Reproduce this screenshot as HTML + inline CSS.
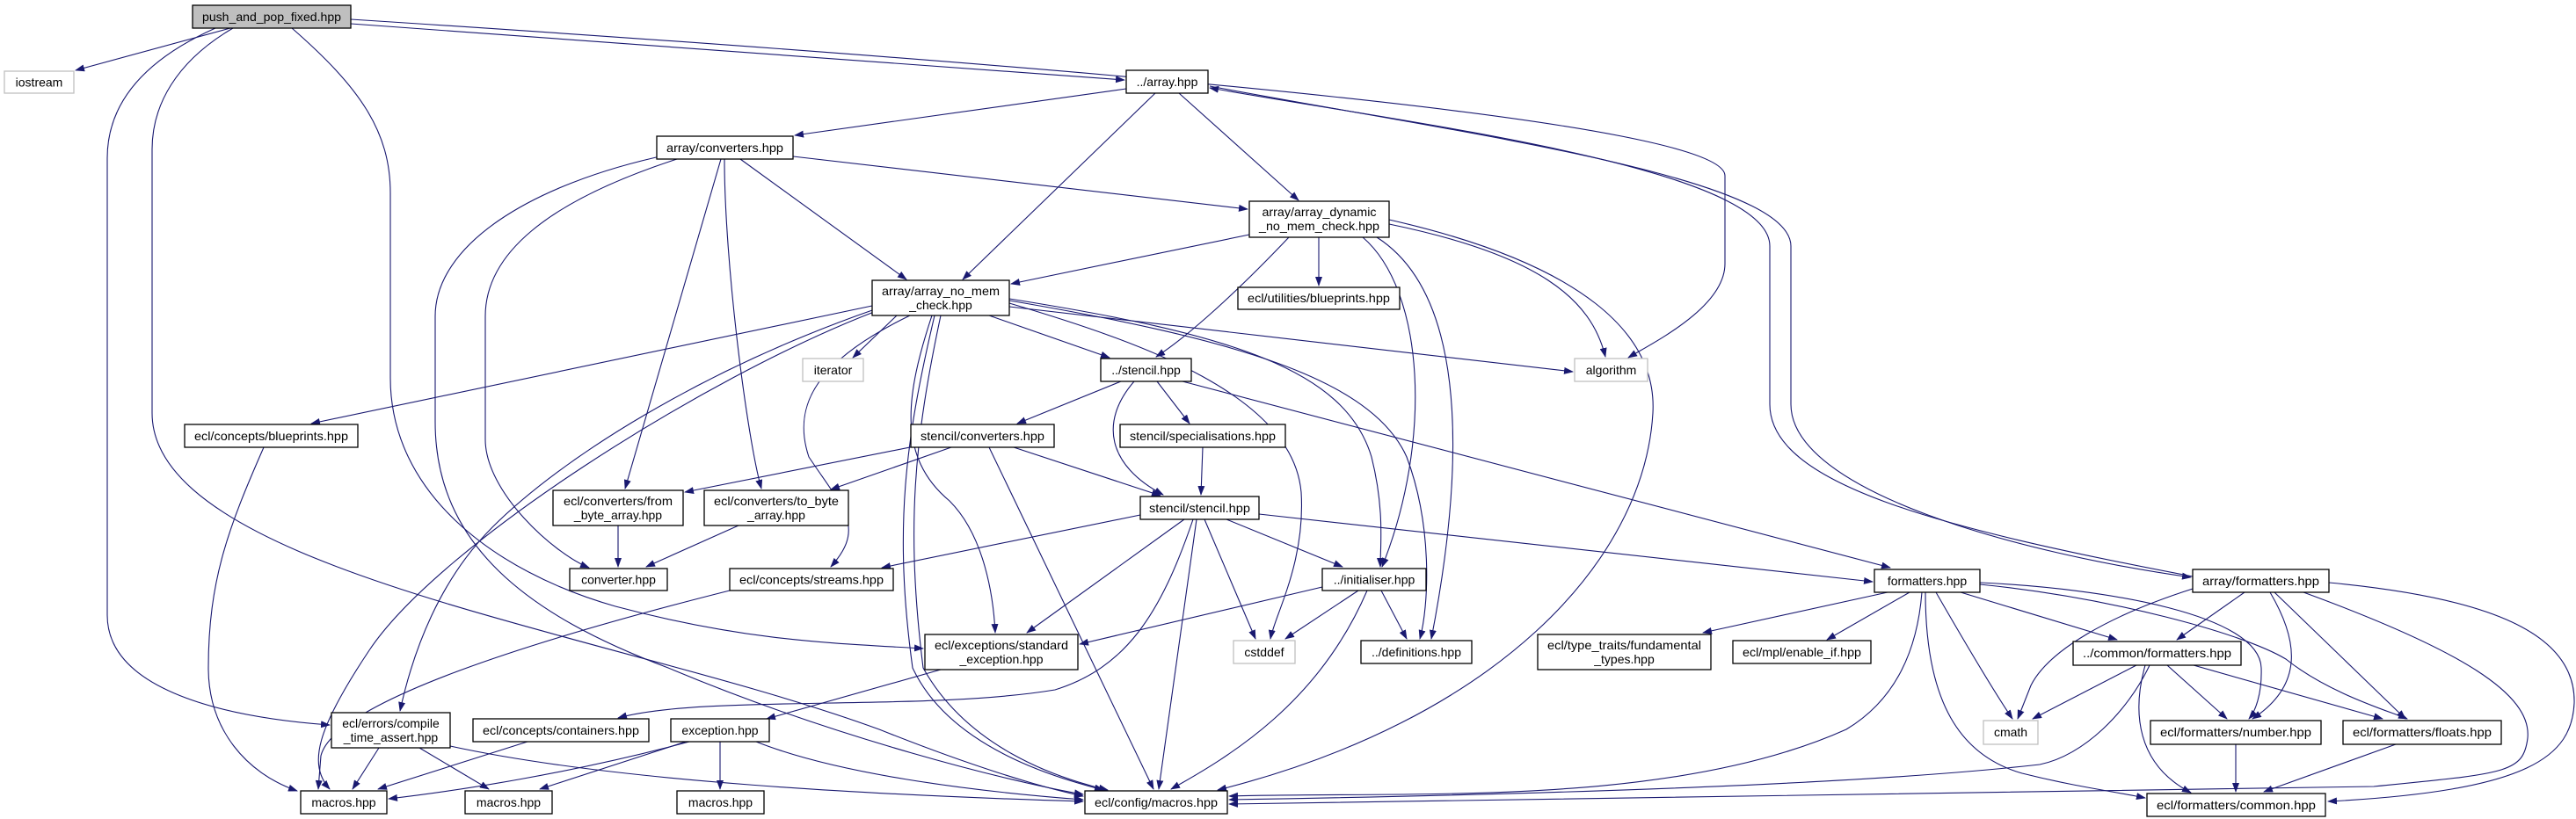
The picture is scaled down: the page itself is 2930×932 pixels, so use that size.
<!DOCTYPE html>
<html><head><meta charset="utf-8"><style>
html,body{margin:0;padding:0;background:#fff;}
svg{display:block;}
text{font-family:"Liberation Sans",sans-serif;font-size:14px;fill:#000;}
.n{fill:#fff;stroke:#000;stroke-width:1.3;}
.g{fill:#fff;stroke:#bfbfbf;stroke-width:1.3;}
.e{fill:none;stroke:#191970;stroke-width:1.1;marker-end:url(#a);}
</style></head><body>
<svg width="2930" height="932" viewBox="0 0 2930 932" xmlns="http://www.w3.org/2000/svg">
<defs><marker id="a" markerWidth="11" markerHeight="8" refX="10" refY="4" orient="auto" markerUnits="userSpaceOnUse"><path d="M0,0 L11,4 L0,8 z" fill="#191970"/></marker></defs>
<g>
<path class="e" d="M262 32 L86 80"/>
<path class="e" d="M399 27 L1279 91"/>
<path class="e" d="M399 22 C1300 80 1962 140 1962 200 L1962 300 C1962 350 1880 390 1852 407"/>
<path class="e" d="M245 32 C160 70 122 120 122 180 L122 700 C122 780 240 815 375 825"/>
<path class="e" d="M265 32 C200 70 173 120 173 170 L173 470 C173 650 700 720 1000 830 C1100 870 1180 895 1232 906"/>
<path class="e" d="M332 32 C410 100 444 150 444 220 L444 430 C444 560 560 650 700 690 C850 730 950 732 1050 738"/>
<path class="e" d="M1281 101 L904 154"/>
<path class="e" d="M1314 106 L1095 318"/>
<path class="e" d="M1341 106 L1477 228"/>
<path class="e" d="M2494 656 C2200 600 2013 550 2013 460 L2013 280 C2013 190 1600 140 1376 100"/>
<path class="e" d="M1376 98 C1650 150 2037 200 2037 280 L2037 460 C2037 560 2300 630 2492 657"/>
<path class="e" d="M902 178 L1419 238"/>
<path class="e" d="M842 181 L1031 318"/>
<path class="e" d="M820 181 L711 556"/>
<path class="e" d="M824 181 C824 300 850 500 866 556"/>
<path class="e" d="M770 181 C620 230 552 290 552 360 L552 500 C552 560 630 630 670 646"/>
<path class="e" d="M760 176 C600 210 495 280 495 360 L495 480 C495 620 600 700 760 760 C950 840 1150 890 1232 904"/>
<path class="e" d="M1421 267 L1150 323"/>
<path class="e" d="M1500 270 L1500 325"/>
<path class="e" d="M1466 270 C1390 350 1340 390 1315 406"/>
<path class="e" d="M1550 270 C1620 330 1630 500 1572 645"/>
<path class="e" d="M1566 270 C1660 330 1672 500 1628 727"/>
<path class="e" d="M1580 255 C1750 290 1810 340 1826 406"/>
<path class="e" d="M1580 250 C1800 300 1885 380 1880 470 C1870 640 1700 820 1385 899"/>
<path class="e" d="M1125 359 L1262 407"/>
<path class="e" d="M1148 349 L1789 423"/>
<path class="e" d="M1020 359 L970 407"/>
<path class="e" d="M992 348 L354 482"/>
<path class="e" d="M1035 359 C930 410 900 460 920 520 C960 580 985 600 945 645"/>
<path class="e" d="M995 352 C800 420 640 520 560 600 C500 660 470 740 455 809"/>
<path class="e" d="M994 355 C800 430 500 620 420 740 C360 830 350 870 375 898"/>
<path class="e" d="M1060 359 C1030 450 1020 520 1080 570 C1120 610 1130 680 1132 720"/>
<path class="e" d="M1063 359 C1030 500 1016 600 1038 760 C1080 850 1200 885 1255 899"/>
<path class="e" d="M1070 359 C1040 500 1030 600 1050 760 C1100 850 1200 885 1260 899"/>
<path class="e" d="M1148 340 C1400 380 1530 420 1560 520 C1575 580 1570 620 1570 645"/>
<path class="e" d="M1148 342 C1400 385 1560 430 1600 520 C1630 600 1625 690 1615 727"/>
<path class="e" d="M1148 345 C1300 390 1470 450 1480 560 C1485 640 1450 700 1445 727"/>
<path class="e" d="M1275 434 L1157 482"/>
<path class="e" d="M1316 434 L1353 482"/>
<path class="e" d="M1290 434 C1250 480 1260 530 1323 563"/>
<path class="e" d="M1345 434 L2150 646"/>
<path class="e" d="M1050 506 L779 560"/>
<path class="e" d="M1082 509 L945 557"/>
<path class="e" d="M1153 509 L1320 564"/>
<path class="e" d="M1125 509 L1312 898"/>
<path class="e" d="M1368 509 L1366 563"/>
<path class="e" d="M1297 586 L1003 646"/>
<path class="e" d="M1347 591 L1168 720"/>
<path class="e" d="M1357 591 C1320 700 1280 760 1200 785 C1050 810 800 790 703 817"/>
<path class="e" d="M1361 591 L1318 898"/>
<path class="e" d="M1370 591 L1428 727"/>
<path class="e" d="M1395 591 L1527 645"/>
<path class="e" d="M1432 585 L2130 662"/>
<path class="e" d="M1504 668 L1228 733"/>
<path class="e" d="M1545 672 L1462 727"/>
<path class="e" d="M1571 672 L1600 727"/>
<path class="e" d="M1555 672 C1500 800 1400 860 1332 898"/>
<path class="e" d="M1070 762 L872 818"/>
<path class="e" d="M830 672 C600 730 380 800 365 860 L362 898"/>
<path class="e" d="M300 509 C260 600 237 660 237 760 C237 830 280 880 338 900"/>
<path class="e" d="M703 598 L703 645"/>
<path class="e" d="M840 598 L735 645"/>
<path class="e" d="M431 851 L401 898"/>
<path class="e" d="M477 851 L556 898"/>
<path class="e" d="M512 849 C700 890 1000 905 1232 912"/>
<path class="e" d="M600 844 L430 898"/>
<path class="e" d="M784 844 C650 880 520 900 442 909"/>
<path class="e" d="M780 844 L614 898"/>
<path class="e" d="M819 844 L819 898"/>
<path class="e" d="M860 844 C950 880 1100 900 1232 910"/>
<path class="e" d="M2147 674 L1937 720"/>
<path class="e" d="M2172 674 L2078 728"/>
<path class="e" d="M2230 674 L2408 728"/>
<path class="e" d="M2202 674 C2240 740 2270 790 2289 818"/>
<path class="e" d="M2252 663 C2400 670 2570 700 2572 760 C2573 790 2565 810 2558 818"/>
<path class="e" d="M2252 665 C2400 680 2550 720 2600 750 C2650 790 2720 810 2738 818"/>
<path class="e" d="M2190 674 C2190 800 2230 860 2300 880 C2360 895 2400 900 2440 908"/>
<path class="e" d="M2186 674 C2180 750 2150 800 2100 830 C1900 920 1600 900 1398 906"/>
<path class="e" d="M2494 670 C2400 700 2330 740 2310 780 L2295 818"/>
<path class="e" d="M2553 674 L2476 728"/>
<path class="e" d="M2582 674 C2615 730 2620 780 2562 818"/>
<path class="e" d="M2587 674 L2736 818"/>
<path class="e" d="M2649 663 C2830 680 2930 720 2928 800 C2925 860 2880 900 2648 912"/>
<path class="e" d="M2620 674 C2800 740 2880 790 2875 840 C2870 880 2850 880 2700 895 L1398 915"/>
<path class="e" d="M2430 757 L2312 818"/>
<path class="e" d="M2465 757 L2533 818"/>
<path class="e" d="M2495 757 L2710 818"/>
<path class="e" d="M2440 757 C2425 810 2430 870 2492 902"/>
<path class="e" d="M2445 757 C2420 810 2370 860 2320 870 C2100 895 1700 905 1398 910"/>
<path class="e" d="M2543 847 L2543 901"/>
<path class="e" d="M2725 847 L2575 901"/>
</g>
<g>
<rect x="219" y="6" width="180" height="26" fill="#bfbfbf" stroke="#000" stroke-width="1.3"/><text x="309" y="24" text-anchor="middle" textLength="158" lengthAdjust="spacingAndGlyphs">push_and_pop_fixed.hpp</text>
<rect class="g" x="5" y="81" width="79" height="25"/><text x="44.5" y="98.5" text-anchor="middle">iostream</text>
<rect class="n" x="1281" y="80" width="93" height="26"/><text x="1327.5" y="98" text-anchor="middle">../array.hpp</text>
<rect class="n" x="747" y="155" width="155" height="26"/><text x="824.5" y="173" text-anchor="middle" textLength="133" lengthAdjust="spacingAndGlyphs">array/converters.hpp</text>
<rect class="n" x="1421" y="229" width="159" height="41"/><text x="1500.5" y="246" text-anchor="middle" textLength="130" lengthAdjust="spacingAndGlyphs">array/array_dynamic</text><text x="1500.5" y="262" text-anchor="middle" textLength="137" lengthAdjust="spacingAndGlyphs">_no_mem_check.hpp</text>
<rect class="n" x="992" y="319" width="156" height="40"/><text x="1070" y="336" text-anchor="middle" textLength="134" lengthAdjust="spacingAndGlyphs">array/array_no_mem</text><text x="1070" y="352" text-anchor="middle">_check.hpp</text>
<rect class="n" x="1408" y="327" width="184" height="25"/><text x="1500" y="344" text-anchor="middle" textLength="162" lengthAdjust="spacingAndGlyphs">ecl/utilities/blueprints.hpp</text>
<rect class="g" x="913" y="408" width="69" height="26"/><text x="947.5" y="426" text-anchor="middle">iterator</text>
<rect class="n" x="1252" y="408" width="103" height="26"/><text x="1303.5" y="426" text-anchor="middle">../stencil.hpp</text>
<rect class="g" x="1791" y="408" width="83" height="26"/><text x="1832.5" y="426" text-anchor="middle">algorithm</text>
<rect class="n" x="210" y="483" width="197" height="26"/><text x="308.5" y="501" text-anchor="middle" textLength="175" lengthAdjust="spacingAndGlyphs">ecl/concepts/blueprints.hpp</text>
<rect class="n" x="1036" y="483" width="163" height="26"/><text x="1117.5" y="501" text-anchor="middle" textLength="141" lengthAdjust="spacingAndGlyphs">stencil/converters.hpp</text>
<rect class="n" x="1274" y="483" width="188" height="26"/><text x="1368" y="501" text-anchor="middle" textLength="166" lengthAdjust="spacingAndGlyphs">stencil/specialisations.hpp</text>
<rect class="n" x="629" y="558" width="148" height="40"/><text x="703" y="575" text-anchor="middle" textLength="124" lengthAdjust="spacingAndGlyphs">ecl/converters/from</text><text x="703" y="591" text-anchor="middle">_byte_array.hpp</text>
<rect class="n" x="801" y="558" width="164" height="40"/><text x="883" y="575" text-anchor="middle" textLength="142" lengthAdjust="spacingAndGlyphs">ecl/converters/to_byte</text><text x="883" y="591" text-anchor="middle">_array.hpp</text>
<rect class="n" x="1297" y="565" width="135" height="26"/><text x="1364.5" y="583" text-anchor="middle" textLength="115" lengthAdjust="spacingAndGlyphs">stencil/stencil.hpp</text>
<rect class="n" x="648" y="647" width="111" height="25"/><text x="703.5" y="664.5" text-anchor="middle">converter.hpp</text>
<rect class="n" x="830" y="647" width="186" height="25"/><text x="923" y="664.5" text-anchor="middle" textLength="164" lengthAdjust="spacingAndGlyphs">ecl/concepts/streams.hpp</text>
<rect class="n" x="1504" y="647" width="118" height="25"/><text x="1563" y="664.5" text-anchor="middle">../initialiser.hpp</text>
<rect class="n" x="2132" y="648" width="120" height="26"/><text x="2192" y="666" text-anchor="middle">formatters.hpp</text>
<rect class="n" x="2494" y="648" width="155" height="26"/><text x="2571.5" y="666" text-anchor="middle" textLength="133" lengthAdjust="spacingAndGlyphs">array/formatters.hpp</text>
<rect class="n" x="1052" y="722" width="174" height="40"/><text x="1139" y="739" text-anchor="middle" textLength="152" lengthAdjust="spacingAndGlyphs">ecl/exceptions/standard</text><text x="1139" y="755" text-anchor="middle">_exception.hpp</text>
<rect class="g" x="1403" y="729" width="70" height="26"/><text x="1438" y="747" text-anchor="middle">cstddef</text>
<rect class="n" x="1548" y="729" width="126" height="26"/><text x="1611" y="747" text-anchor="middle">../definitions.hpp</text>
<rect class="n" x="1749" y="722" width="197" height="40"/><text x="1847.5" y="739" text-anchor="middle" textLength="175" lengthAdjust="spacingAndGlyphs">ecl/type_traits/fundamental</text><text x="1847.5" y="755" text-anchor="middle">_types.hpp</text>
<rect class="n" x="1971" y="729" width="157" height="26"/><text x="2049.5" y="747" text-anchor="middle" textLength="135" lengthAdjust="spacingAndGlyphs">ecl/mpl/enable_if.hpp</text>
<rect class="n" x="2358" y="730" width="191" height="27"/><text x="2453.5" y="748" text-anchor="middle" textLength="169" lengthAdjust="spacingAndGlyphs">../common/formatters.hpp</text>
<rect class="n" x="377" y="811" width="135" height="40"/><text x="444.5" y="828" text-anchor="middle">ecl/errors/compile</text><text x="444.5" y="844" text-anchor="middle">_time_assert.hpp</text>
<rect class="n" x="538" y="818" width="200" height="26"/><text x="638" y="836" text-anchor="middle" textLength="178" lengthAdjust="spacingAndGlyphs">ecl/concepts/containers.hpp</text>
<rect class="n" x="763" y="818" width="112" height="26"/><text x="819" y="836" text-anchor="middle">exception.hpp</text>
<rect class="g" x="2256" y="820" width="62" height="27"/><text x="2287" y="838" text-anchor="middle">cmath</text>
<rect class="n" x="2446" y="820" width="194" height="27"/><text x="2543" y="838" text-anchor="middle" textLength="172" lengthAdjust="spacingAndGlyphs">ecl/formatters/number.hpp</text>
<rect class="n" x="2665" y="820" width="180" height="27"/><text x="2755" y="838" text-anchor="middle" textLength="158" lengthAdjust="spacingAndGlyphs">ecl/formatters/floats.hpp</text>
<rect class="n" x="342" y="900" width="98" height="26"/><text x="391" y="918" text-anchor="middle">macros.hpp</text>
<rect class="n" x="529" y="900" width="99" height="26"/><text x="578.5" y="918" text-anchor="middle">macros.hpp</text>
<rect class="n" x="770" y="900" width="99" height="26"/><text x="819.5" y="918" text-anchor="middle">macros.hpp</text>
<rect class="n" x="1234" y="900" width="162" height="26"/><text x="1315" y="918" text-anchor="middle" textLength="140" lengthAdjust="spacingAndGlyphs">ecl/config/macros.hpp</text>
<rect class="n" x="2442" y="903" width="203" height="26"/><text x="2543.5" y="921" text-anchor="middle" textLength="181" lengthAdjust="spacingAndGlyphs">ecl/formatters/common.hpp</text>
</g>
</svg>
</body></html>
